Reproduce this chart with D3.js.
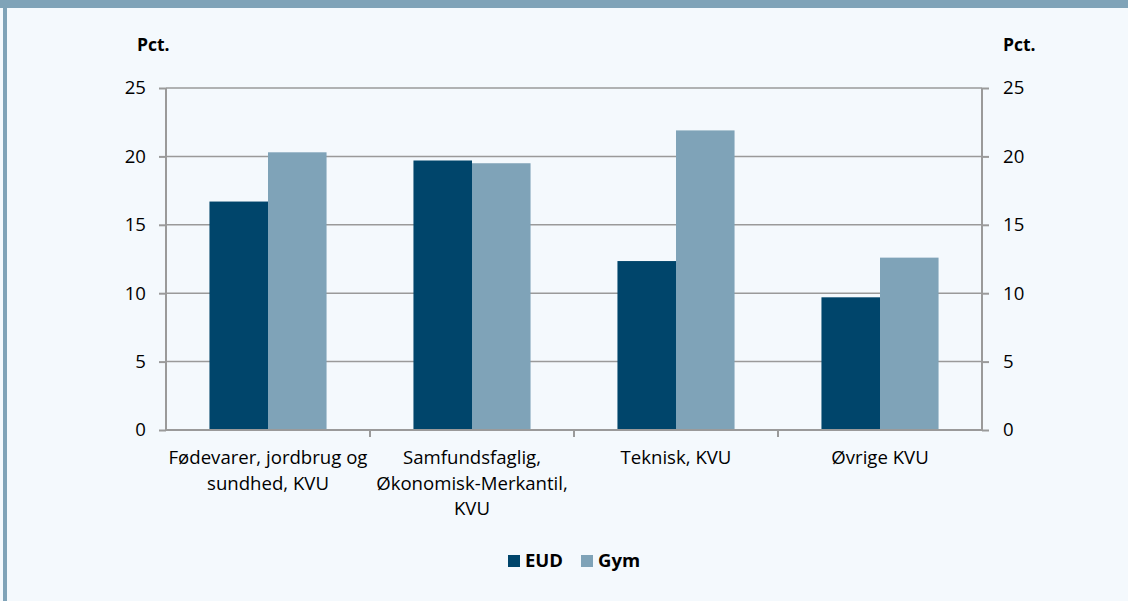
<!DOCTYPE html>
<html><head><meta charset="utf-8">
<script src="https://cdn.jsdelivr.net/npm/d3@7"></script>
<style>
html,body{margin:0;padding:0;background:#f4f9fd;}
svg{display:block;}
text{font-family:"Open Sans",Lato,sans-serif;fill:#000;}
</style></head>
<body>
<script>
const categories = [["Fødevarer, jordbrug og","sundhed, KVU"],["Samfundsfaglig,","Økonomisk-Merkantil,","KVU"],["Teknisk, KVU"],["Øvrige KVU"]];
const seriesNames = ["EUD","Gym"];
const eudValues = [16.7, 19.7, 12.35, 9.7];
const gymValues = [20.3, 19.5, 21.9, 12.6];
const yTicks = [0,5,10,15,20,25];
const colors = ["#00456b","#7fa3b8"];

const FONT="'Open Sans',Lato,sans-serif";
const FS=18.6;
const W=1128,H=601;
const svg=d3.select("body").append("svg").attr("width",W).attr("height",H);
svg.append("rect").attr("width",W).attr("height",H).attr("fill","#f4f9fd");
svg.append("rect").attr("x",0).attr("y",0).attr("width",W).attr("height",8).attr("fill","#7fa3b8");
svg.append("rect").attr("x",3).attr("y",0).attr("width",4).attr("height",H).attr("fill","#7fa3b8");

const L=166,R=982,T=88,B=430;
const idx=d3.range(categories.length);
const x=d3.scaleBand().domain(idx).range([L,R]).paddingInner(0.426).paddingOuter(0.213);
const xs=d3.scaleBand().domain(seriesNames).range([0,x.bandwidth()]);
const y=d3.scaleLinear().domain([0,25]).range([B,T]);
const grid="#9a9a9a";

svg.append("g").selectAll("line").data(yTicks.filter(d=>d>0)).join("line")
  .attr("x1",L).attr("x2",R).attr("y1",d=>y(d)).attr("y2",d=>y(d))
  .attr("stroke",grid).attr("stroke-width",1.5);

const data=idx.map(i=>[eudValues[i],gymValues[i]]);
const g=svg.append("g");
idx.forEach(i=>{
  seriesNames.forEach((s,j)=>{
    g.append("rect").attr("x",x(i)+xs(s)).attr("width",xs.bandwidth())
     .attr("y",y(data[i][j])).attr("height",B-y(data[i][j])).attr("fill",colors[j]);
  });
});

const ax=d3.axisLeft(y).tickValues(yTicks).tickSize(7).tickPadding(13);
const gl=svg.append("g").attr("transform",`translate(${L},0)`).call(ax);
const ar=d3.axisRight(y).tickValues(yTicks).tickSize(7).tickPadding(14);
const gr=svg.append("g").attr("transform",`translate(${R},0)`).call(ar);
[gl,gr].forEach(a=>{
  a.select(".domain").attr("stroke",grid).attr("stroke-width",2).attr("d",`M0,${T}V${B}`);
  a.selectAll(".tick line").attr("stroke",grid).attr("stroke-width",2);
  a.selectAll(".tick text").attr("font-size",FS).attr("font-family",FONT).attr("fill","#000");
});
svg.append("line").attr("x1",L).attr("x2",R).attr("y1",B).attr("y2",B).attr("stroke",grid).attr("stroke-width",2);
const step=x.step();
svg.append("g").selectAll("line").data(d3.range(1,categories.length)).join("line")
  .attr("x1",d=>L+step*d).attr("x2",d=>L+step*d).attr("y1",B).attr("y2",B+7)
  .attr("stroke",grid).attr("stroke-width",2);

idx.forEach(i=>{
  categories[i].forEach((ln,k)=>{
    svg.append("text").attr("text-anchor","middle").attr("font-size",FS)
      .attr("x",x(i)+x.bandwidth()/2).attr("y",464+k*25.5).text(ln);
  });
});

svg.append("text").attr("x",137).attr("y",51).attr("font-size",17.5).attr("font-weight","bold").text("Pct.");
svg.append("text").attr("x",1003).attr("y",51).attr("font-size",17.5).attr("font-weight","bold").text("Pct.");

const leg=svg.append("g");
const legX=[508,581];
seriesNames.forEach((s,j)=>{
  leg.append("rect").attr("x",legX[j]).attr("y",555).attr("width",12).attr("height",12).attr("fill",colors[j]);
  leg.append("text").attr("x",legX[j]+17).attr("y",567).attr("font-size",18.5).attr("font-weight","bold").text(s);
});
</script>
</body></html>
